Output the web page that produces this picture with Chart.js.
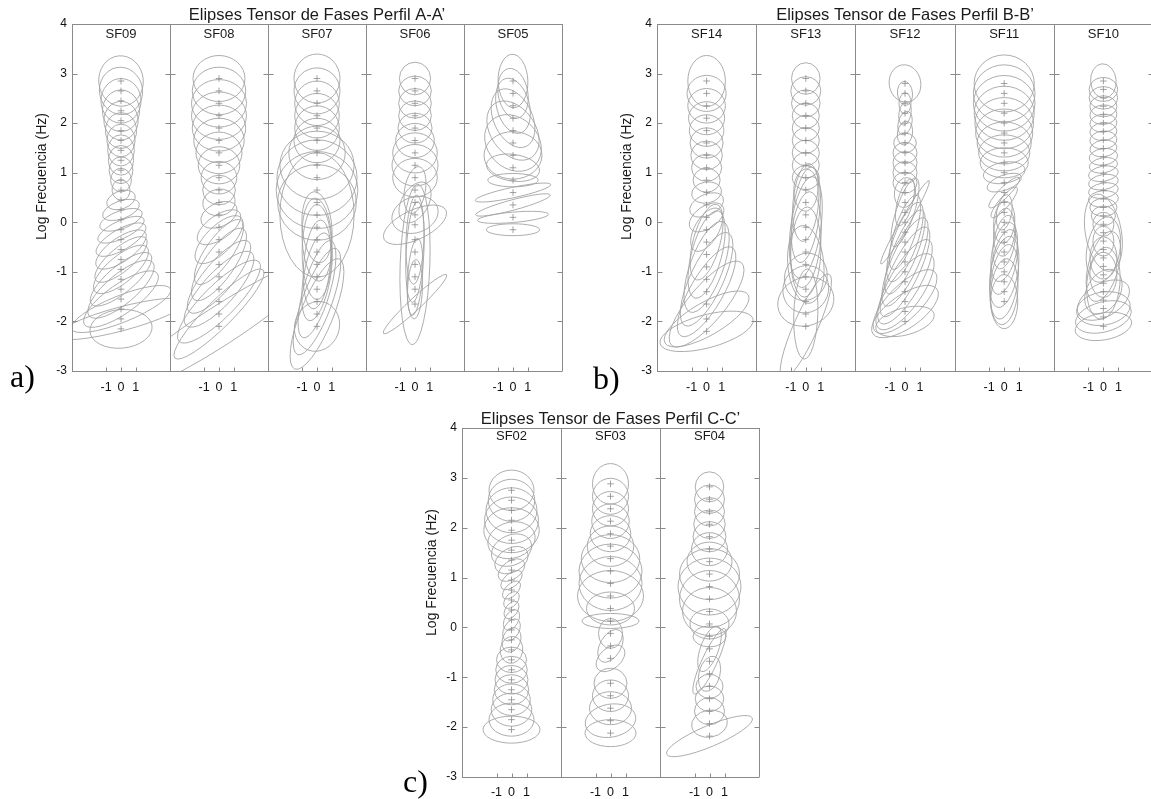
<!DOCTYPE html>
<html>
<head>
<meta charset="utf-8">
<script src="https://cdn.jsdelivr.net/npm/chart.js@4.4.1/dist/chart.umd.min.js"></script>
<style>
html, body { margin: 0; padding: 0; background: #fff; overflow: hidden; width: 1151px; height: 799px; }
.panel { position: absolute; }
.tag { position: absolute; font-family: "Liberation Serif", "Times New Roman", serif; font-size: 32px; line-height: 1; color: #000; }
</style>
</head>
<body>
<div class="panel" style="left:0;top:0;width:575px;height:400px"><canvas id="perfilA"></canvas></div>
<div class="panel" style="left:585px;top:0;width:575px;height:400px"><canvas id="perfilB"></canvas></div>
<div class="panel" style="left:390px;top:404px;width:380px;height:399px"><canvas id="perfilC"></canvas></div>
<div class="tag" style="left:10px;top:360px">a)</div>
<div class="tag" style="left:593px;top:362px">b)</div>
<div class="tag" style="left:403px;top:765px">c)</div>
<script>
// each row: [log frequency, phi max, phi min, angle (deg)]
const sf09 = [
  [2.85, 1.7, 1.5, 95], [2.65, 1.6, 1.45, 100], [2.45, 1.5, 1.35, 90], [2.25, 1.4, 1.25, 90],
  [2.05, 1.3, 1.15, 90], [1.85, 1.2, 1.05, 90], [1.65, 1.1, 0.95, 90], [1.45, 1.05, 0.9, 90],
  [1.25, 1.0, 0.85, 90], [1.05, 0.9, 0.8, 90], [0.85, 0.8, 0.7, 90], [0.65, 0.7, 0.6, 100],
  [0.45, 1.0, 0.6, 20], [0.25, 1.3, 0.6, 20], [0.05, 1.5, 0.6, 20], [-0.15, 1.7, 0.6, 25],
  [-0.35, 1.9, 0.7, 30], [-0.55, 2.0, 0.8, 35], [-0.75, 2.2, 0.8, 40], [-0.95, 2.3, 0.9, 40],
  [-1.15, 2.6, 0.9, 40], [-1.35, 2.8, 1.0, 40], [-1.55, 3.0, 1.0, 35], [-1.75, 3.6, 0.9, 22],
  [-1.95, 4.5, 0.8, 15], [-2.15, 2.1, 1.3, 5]
];
const sf08 = [
  [2.9, 1.75, 1.55, 0], [2.65, 1.8, 1.6, 0], [2.4, 1.85, 1.6, 0], [2.15, 1.85, 1.6, 0],
  [1.9, 1.8, 1.55, 0], [1.65, 1.7, 1.5, 0], [1.4, 1.55, 1.4, 0], [1.15, 1.4, 1.25, 0],
  [0.9, 1.2, 1.1, 0], [0.65, 1.1, 1.0, 0], [0.4, 1.1, 0.9, 10], [0.15, 1.3, 0.8, 25],
  [-0.1, 1.7, 0.8, 35], [-0.35, 2.1, 0.9, 45], [-0.6, 2.6, 0.9, 55], [-0.85, 2.9, 1.0, 55],
  [-1.1, 3.1, 1.0, 50], [-1.35, 3.3, 1.1, 48], [-1.6, 3.8, 1.1, 45], [-1.85, 4.2, 0.9, 45],
  [-2.1, 8.0, 1.3, 33]
];
const sf07 = [
  [2.9, 1.55, 1.65, 0], [2.65, 1.55, 1.55, 0], [2.4, 1.5, 1.5, 0], [2.15, 1.5, 1.5, 0],
  [1.9, 1.5, 1.5, 0], [1.65, 1.55, 1.5, 0], [1.4, 1.9, 1.8, 0], [1.15, 2.5, 2.3, 0],
  [0.9, 2.7, 2.55, 0], [0.65, 2.75, 2.6, 0], [0.4, 2.65, 2.55, 0], [0.15, 2.5, 4.2, 0],
  [-0.1, 2.4, 1.0, 95], [-0.35, 2.8, 1.0, 93], [-0.6, 3.2, 1.0, 90], [-0.85, 3.0, 0.9, 85],
  [-1.1, 3.0, 0.9, 80], [-1.35, 3.4, 0.9, 74], [-1.6, 3.8, 1.0, 70], [-1.85, 4.0, 1.1, 68],
  [-2.1, 1.7, 1.5, 70]
];
const sf06 = [
  [2.9, 1.1, 1.05, 90], [2.65, 1.1, 1.0, 0], [2.4, 1.1, 1.0, 0], [2.15, 1.1, 1.0, 0],
  [1.9, 1.15, 1.0, 0], [1.65, 1.3, 1.15, 0], [1.4, 1.5, 1.35, 0], [1.15, 1.55, 1.4, 0],
  [0.9, 1.5, 1.3, 0], [0.65, 1.6, 0.7, 80], [0.4, 1.5, 0.9, 60], [0.15, 1.6, 1.2, 20],
  [-0.05, 2.3, 1.0, 25], [-0.35, 3.0, 0.6, 88], [-0.6, 3.4, 0.6, 87], [-0.85, 5.4, 1.0, 88],
  [-1.1, 2.6, 0.5, 86], [-1.35, 2.0, 0.5, 88], [-1.65, 2.9, 0.4, 43]
];
const sf05 = [
  [2.85, 1.8, 1.0, 92], [2.6, 1.7, 1.0, 100], [2.35, 1.9, 1.1, 105], [2.1, 2.1, 1.3, 115],
  [1.85, 2.2, 1.5, 125], [1.6, 2.1, 1.7, 135], [1.35, 1.95, 1.6, 0], [1.1, 1.8, 0.9, 172],
  [0.85, 1.7, 0.45, 0], [0.6, 2.6, 0.35, 12], [0.35, 2.6, 0.35, 15], [0.1, 2.4, 0.35, 5],
  [-0.15, 1.8, 0.4, 0]
];
const sf14 = [
  [2.85, 1.7, 1.25, 90], [2.6, 1.3, 1.2, 0], [2.35, 1.25, 1.15, 0], [2.1, 1.2, 1.1, 0],
  [1.85, 1.15, 1.05, 0], [1.6, 1.1, 1.0, 0], [1.35, 1.05, 0.95, 0], [1.1, 1.0, 0.9, 0],
  [0.85, 0.9, 0.8, 0], [0.6, 1.0, 0.7, 10], [0.35, 1.2, 0.7, 25], [0.1, 1.3, 0.75, 35],
  [-0.15, 1.6, 0.8, 60], [-0.4, 2.6, 0.9, 75], [-0.65, 3.0, 1.0, 75], [-0.9, 3.2, 1.1, 70],
  [-1.15, 3.4, 1.1, 65], [-1.4, 3.4, 1.1, 60], [-1.65, 3.6, 1.2, 50], [-1.95, 3.2, 1.1, 30],
  [-2.2, 3.2, 1.1, 15]
];
const sf13 = [
  [2.9, 1.05, 0.95, 90], [2.65, 1.0, 0.95, 0], [2.4, 0.95, 0.9, 0], [2.15, 0.9, 0.85, 0],
  [1.9, 0.9, 0.85, 0], [1.65, 0.9, 0.85, 0], [1.4, 0.9, 0.85, 0], [1.15, 0.9, 0.85, 0],
  [0.9, 0.9, 0.8, 0], [0.65, 1.4, 0.8, 88], [0.4, 2.6, 0.85, 85], [0.15, 3.2, 0.9, 83],
  [-0.1, 3.4, 1.0, 82], [-0.35, 3.2, 1.0, 85], [-0.6, 3.0, 1.0, 88], [-0.85, 2.6, 1.2, 95],
  [-1.1, 1.6, 1.4, 70], [-1.35, 1.6, 1.5, 60], [-1.6, 1.9, 1.6, 20], [-1.85, 3.0, 0.8, 88],
  [-2.1, 3.8, 0.8, 66]
];
const sf12 = [
  [2.8, 1.25, 1.05, 100], [2.6, 0.8, 0.5, 95], [2.4, 0.7, 0.4, 88], [2.2, 0.8, 0.4, 80],
  [2.0, 0.8, 0.45, 75], [1.8, 0.8, 0.5, 80], [1.6, 0.75, 0.65, 0], [1.4, 0.8, 0.7, 0],
  [1.2, 0.8, 0.75, 0], [1.0, 0.8, 0.75, 0], [0.8, 0.8, 0.7, 0], [0.6, 1.0, 0.7, 80],
  [0.4, 1.6, 0.5, 75], [0.2, 2.4, 0.6, 72], [0.0, 3.2, 0.3, 60], [-0.2, 2.6, 0.7, 72],
  [-0.4, 2.8, 0.8, 70], [-0.6, 3.0, 0.8, 68], [-0.8, 3.2, 0.9, 66], [-1.0, 3.3, 0.9, 64],
  [-1.2, 3.2, 1.0, 60], [-1.4, 3.0, 1.1, 55], [-1.6, 2.8, 1.1, 45], [-1.8, 2.6, 1.1, 35],
  [-2.0, 2.0, 0.9, 15]
];
const sf11 = [
  [2.8, 2.0, 1.9, 0], [2.6, 2.05, 1.9, 0], [2.4, 2.05, 1.85, 0], [2.2, 2.0, 1.8, 0],
  [2.0, 1.95, 1.7, 0], [1.8, 1.9, 1.6, 0], [1.6, 1.8, 1.4, 0], [1.4, 1.7, 1.2, 0],
  [1.2, 1.6, 1.0, 0], [1.0, 1.4, 0.7, 10], [0.8, 1.2, 0.5, 20], [0.6, 1.4, 0.35, 45],
  [0.4, 1.3, 0.35, 50], [0.2, 1.2, 0.5, 80], [0.0, 1.4, 0.7, 85], [-0.2, 1.6, 0.7, 85],
  [-0.4, 1.8, 0.7, 80], [-0.6, 2.0, 0.8, 78], [-0.8, 2.2, 0.8, 78], [-1.0, 2.4, 0.9, 80],
  [-1.2, 2.5, 0.9, 82], [-1.4, 2.2, 0.9, 85], [-1.6, 1.8, 0.9, 90]
];
const sf10 = [
  [2.85, 1.15, 0.85, 95], [2.68, 0.95, 0.8, 0], [2.51, 0.95, 0.75, 0], [2.34, 0.9, 0.7, 0],
  [2.17, 0.9, 0.65, 5], [2.0, 0.9, 0.6, 5], [1.83, 0.9, 0.6, 5], [1.66, 0.9, 0.6, 5],
  [1.49, 0.9, 0.55, 8], [1.32, 0.95, 0.55, 8], [1.15, 0.95, 0.5, 10], [0.98, 1.0, 0.5, 10],
  [0.81, 1.0, 0.5, 10], [0.64, 1.0, 0.5, 10], [0.47, 1.0, 0.55, 5], [0.3, 0.9, 0.6, 0],
  [0.13, 0.8, 0.65, 0], [-0.04, 0.8, 0.7, 90], [-0.21, 2.6, 1.2, 100], [-0.38, 1.0, 0.7, 90],
  [-0.55, 2.2, 1.1, 80], [-0.72, 1.4, 0.9, 90], [-0.89, 2.4, 1.0, 75], [-1.06, 1.5, 0.9, 90],
  [-1.23, 2.4, 1.1, 85], [-1.4, 1.6, 1.1, 60], [-1.57, 1.9, 1.1, 30], [-1.74, 1.8, 1.1, 10],
  [-1.91, 1.9, 1.0, 15], [-2.1, 1.9, 0.9, 10]
];
const sf02 = [
  [2.75, 1.5, 1.35, 0], [2.55, 1.55, 1.4, 0], [2.35, 1.7, 1.5, 0], [2.15, 1.8, 1.55, 0],
  [1.95, 1.85, 1.5, 0], [1.75, 1.6, 1.2, 15], [1.55, 1.4, 1.0, 25], [1.35, 1.2, 0.8, 30],
  [1.15, 1.0, 0.6, 35], [0.95, 0.85, 0.45, 40], [0.75, 0.75, 0.4, 45], [0.55, 0.65, 0.4, 50],
  [0.35, 0.65, 0.4, 55], [0.15, 0.75, 0.45, 60], [-0.05, 0.8, 0.5, 60], [-0.25, 0.85, 0.6, 70],
  [-0.45, 0.9, 0.75, 80], [-0.65, 1.0, 0.85, 0], [-0.85, 1.05, 0.9, 0], [-1.05, 1.1, 0.95, 0],
  [-1.25, 1.15, 1.0, 0], [-1.45, 1.25, 1.05, 0], [-1.65, 1.35, 1.1, 0], [-1.85, 1.5, 1.1, 0],
  [-2.05, 1.9, 0.9, 0]
];
const sf03 = [
  [2.88, 1.2, 1.35, 0], [2.63, 1.2, 1.2, 0], [2.38, 1.2, 1.15, 0], [2.13, 1.25, 1.15, 0],
  [1.88, 1.35, 1.2, 0], [1.63, 1.55, 1.35, 0], [1.38, 1.95, 1.6, 0], [1.13, 2.1, 1.8, 0],
  [0.88, 2.1, 1.8, 0], [0.63, 2.2, 1.7, 0], [0.38, 1.6, 1.1, 0], [0.13, 1.9, 0.5, 0],
  [-0.12, 1.0, 0.8, 90], [-0.37, 1.2, 0.7, 60], [-0.62, 1.1, 0.7, 40], [-1.12, 1.1, 1.0, 0],
  [-1.37, 1.2, 1.05, 0], [-1.62, 1.4, 1.1, 0], [-1.87, 1.7, 1.1, 10], [-2.12, 1.7, 0.9, 0]
];
const sf04 = [
  [2.82, 1.0, 0.95, 90], [2.57, 1.0, 0.95, 0], [2.32, 1.0, 0.95, 0], [2.07, 1.05, 0.95, 0],
  [1.82, 1.1, 1.0, 0], [1.57, 1.2, 1.1, 0], [1.32, 1.5, 1.3, 0], [1.07, 2.0, 1.7, 0],
  [0.82, 2.1, 1.9, 0], [0.57, 2.0, 1.9, 0], [0.32, 1.8, 1.6, 0], [0.07, 1.3, 1.0, 0],
  [-0.18, 1.1, 0.7, 0], [-0.43, 1.6, 0.6, 70], [-0.68, 2.4, 0.5, 65], [-0.93, 1.2, 0.7, 75],
  [-1.18, 0.9, 0.8, 0], [-1.43, 0.95, 0.85, 0], [-1.68, 1.0, 0.9, 0], [-1.93, 1.2, 0.9, 10],
  [-2.18, 3.1, 0.7, 23]
];

const namesA = ['SF09', 'SF08', 'SF07', 'SF06', 'SF05'];
const namesB = ['SF14', 'SF13', 'SF12', 'SF11', 'SF10'];
const namesC = ['SF02', 'SF03', 'SF04'];
const xTickOffsets = [-1, 0, 1];
const xTickLabels = ['-1', '0', '1'];
const yTicks = [-3, -2, -1, 0, 1, 2, 3, 4];

const SPAN = 6.6; // width of one station column in phase tensor units
const FONT = '"Liberation Sans", Arial, Helvetica, sans-serif';
const LINE = '#8a8a8a';

const decor = {
  id: 'decor',
  beforeDatasetsDraw(chart) {
    const { ctx, chartArea: a, scales: { x, y } } = chart;
    const o = chart.options.plugins.decor;
    const unit = x.getPixelForValue(1) - x.getPixelForValue(0);
    o.stations.forEach((st, i) => {
      const c0 = x.getPixelForValue(SPAN * i), c1 = x.getPixelForValue(SPAN * (i + 1));
      const cx = x.getPixelForValue(SPAN * i + SPAN / 2);
      ctx.save();
      ctx.beginPath();
      ctx.rect(c0, a.top, c1 - c0, a.bottom - a.top);
      ctx.clip();
      ctx.strokeStyle = '#a4a4a4';
      ctx.lineWidth = 0.9;
      st.forEach(([f, mx, mn, ang]) => {
        ctx.beginPath();
        ctx.ellipse(cx, y.getPixelForValue(f), mx * unit, mn * unit, -ang * Math.PI / 180, 0, 2 * Math.PI);
        ctx.stroke();
      });
      ctx.restore();
    });
  },
  afterDraw(chart) {
    const { ctx, chartArea: a, scales: { x, y } } = chart;
    const o = chart.options.plugins.decor;
    const n = o.stations.length;
    ctx.save();
    ctx.strokeStyle = LINE;
    ctx.lineWidth = 1;
    ctx.beginPath();
    for (let i = 0; i <= n; i++) {
      const bx = Math.round(x.getPixelForValue(SPAN * i)) + 0.5;
      ctx.moveTo(bx, a.top); ctx.lineTo(bx, a.bottom);
      yTicks.forEach(v => {
        const py = Math.round(y.getPixelForValue(v)) + 0.5;
        if (i > 0) { ctx.moveTo(bx - 5, py); ctx.lineTo(bx, py); }
        if (i < n) { ctx.moveTo(bx, py); ctx.lineTo(bx + 5, py); }
      });
    }
    const top = Math.round(a.top) + 0.5, bot = Math.round(a.bottom) + 0.5;
    ctx.moveTo(a.left, top); ctx.lineTo(a.right, top);
    ctx.moveTo(a.left, bot); ctx.lineTo(a.right, bot);
    x.ticks.forEach(t => {
      const px = Math.round(x.getPixelForValue(t.value)) + 0.5;
      ctx.moveTo(px, bot); ctx.lineTo(px, bot - 4);
    });
    ctx.stroke();

    ctx.fillStyle = '#1a1a1a';
    ctx.textAlign = 'center';
    ctx.textBaseline = 'middle';
    ctx.font = '16.5px ' + FONT;
    ctx.fillText(o.title, (a.left + a.right) / 2, a.top - 8.5);
    ctx.font = '13px ' + FONT;
    o.names.forEach((nm, i) => {
      ctx.fillText(nm, x.getPixelForValue(SPAN * i + SPAN / 2), a.top + o.nameDy);
    });
    ctx.font = '14px ' + FONT;
    ctx.translate(a.left - 30, (a.top + a.bottom) / 2 + o.labelDy);
    ctx.rotate(-Math.PI / 2);
    ctx.fillText('Log Frecuencia (Hz)', 0, 0);
    ctx.restore();
  }
};

function makeChart(id, stations, names, title, lay) {
  const centers = stations.map((_, i) => SPAN * i + SPAN / 2);
  const xTicks = centers.flatMap(c => xTickOffsets.map(d => c + d));
  const points = stations.flatMap((st, i) => st.map(e => ({ x: centers[i], y: e[0] })));
  return new Chart(document.getElementById(id), {
    type: 'scatter',
    data: {
      datasets: [{
        data: points,
        pointStyle: 'cross',
        pointRadius: 3.3,
        borderWidth: 0.8,
        borderColor: '#8c8c8c',
        backgroundColor: '#8c8c8c'
      }]
    },
    options: {
      responsive: true,
      maintainAspectRatio: false,
      animation: false,
      layout: { padding: { left: 0, top: 24, right: lay.right, bottom: 0 } },
      plugins: {
        legend: { display: false },
        tooltip: { enabled: false },
        decor: { stations, names, title, nameDy: lay.nameDy, labelDy: lay.labelDy }
      },
      scales: {
        x: {
          type: 'linear',
          min: 0,
          max: SPAN * stations.length,
          afterBuildTicks: s => { s.ticks = xTicks.map(v => ({ value: v })); },
          afterFit: s => { s.height = lay.xh; },
          grid: { display: false, drawTicks: false },
          border: { display: false },
          ticks: {
            autoSkip: false, maxRotation: 0, minRotation: 0,
            padding: lay.xpad, color: '#111',
            font: { family: FONT, size: 12.5 },
            callback: (v, i) => xTickLabels[i % xTickLabels.length]
          }
        },
        y: {
          min: -3,
          max: 4,
          afterBuildTicks: s => { s.ticks = yTicks.map(v => ({ value: v })); },
          afterFit: s => { s.width = 72; },
          grid: { display: false, drawTicks: false },
          border: { display: false },
          ticks: { padding: 5, color: '#111', font: { family: FONT, size: 12 } }
        }
      }
    },
    plugins: [decor]
  });
}

makeChart('perfilA', [sf09, sf08, sf07, sf06, sf05], namesA, 'Elipses Tensor de Fases Perfil A-A\u2019',
  { right: 13, xh: 29, xpad: 9, nameDy: 10, labelDy: -21 });
makeChart('perfilB', [sf14, sf13, sf12, sf11, sf10], namesB, 'Elipses Tensor de Fases Perfil B-B\u2019',
  { right: 7, xh: 29, xpad: 9, nameDy: 10, labelDy: -21 });
makeChart('perfilC', [sf02, sf03, sf04], namesC, 'Elipses Tensor de Fases Perfil C-C\u2019',
  { right: 11, xh: 26, xpad: 8, nameDy: 8, labelDy: -30 });
</script>
</body>
</html>
